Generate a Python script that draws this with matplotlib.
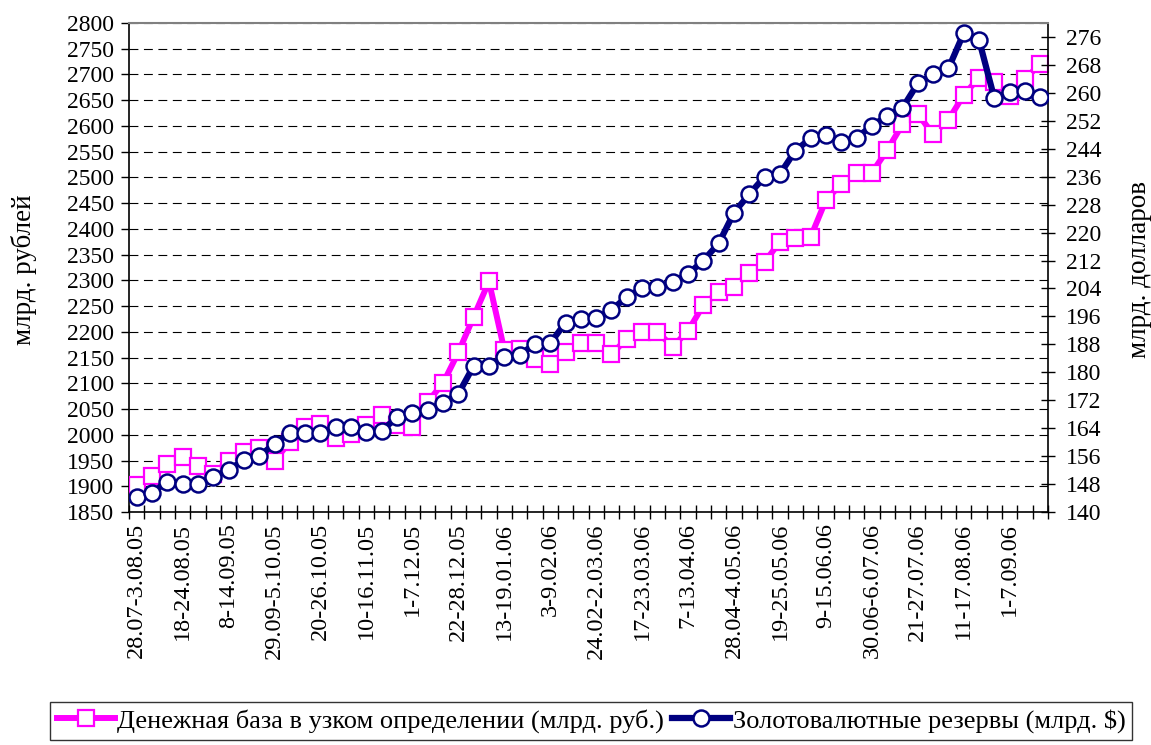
import matplotlib
matplotlib.use("Agg")
import matplotlib.pyplot as plt
import numpy as np

plt.rcParams['font.family'] = ['Liberation Serif', 'DejaVu Serif']

tick_labels = ["28.07-3.08.05", "18-24.08.05", "8-14.09.05", "29.09-5.10.05",
               "20-26.10.05", "10-16.11.05", "1-7.12.05", "22-28.12.05",
               "13-19.01.06", "3-9.02.06", "24.02-2.03.06", "17-23.03.06",
               "7-13.04.06", "28.04-4.05.06", "19-25.05.06", "9-15.06.06",
               "30.06-6.07.06", "21-27.07.06", "11-17.08.06", "1-7.09.06"]

money_base = [1902, 1920, 1943, 1956, 1939, 1924, 1949, 1967, 1974, 1950,
              1986, 2016, 2021, 1994, 2002, 2019, 2038, 2019, 2016, 2064,
              2100, 2160, 2229, 2298, 2165, 2166, 2147, 2137, 2161, 2179,
              2179, 2156, 2187, 2200, 2200, 2171, 2202, 2252, 2278, 2287,
              2315, 2336, 2375, 2382, 2384, 2456, 2487, 2509, 2509, 2553,
              2603, 2623, 2584, 2612, 2660, 2694, 2686, 2659, 2691, 2721]

reserves = [144.2, 145.5, 148.7, 148.0, 148.0, 150.1, 152.0, 154.9, 156.0, 159.5,
            162.7, 162.5, 162.5, 164.2, 164.4, 163.0, 163.3, 167.1, 168.3, 169.2,
            171.2, 173.8, 181.8, 181.8, 184.5, 185.0, 188.1, 188.3, 194.2, 195.2,
            195.5, 197.8, 201.6, 204.0, 204.3, 205.9, 208.1, 212.0, 216.9, 225.7,
            231.0, 236.0, 236.8, 243.4, 247.0, 247.9, 246.0, 247.2, 250.5, 253.4,
            255.7, 262.7, 265.3, 267.0, 277.1, 275.1, 258.4, 260.2, 260.5, 258.9]

label_money = "Денежная база в узком определении (млрд. руб.)"
label_res = "Золотовалютные резервы (млрд. $)"

n = len(money_base)
x = np.arange(n)

fig = plt.figure(figsize=(11.51, 7.45), dpi=100)
ax = fig.add_axes([129/1151, 1-512/745, (1048-129)/1151, (512-23)/745])
ax2 = ax.twinx()

MAG = '#FF00FF'
NAVY = '#000080'

l1, = ax.plot(x, money_base, color=MAG, lw=4.3, marker='s', markersize=11,
              markerfacecolor='white', markeredgecolor=MAG, markeredgewidth=1.6,
              label=label_money, zorder=3)
l2, = ax2.plot(x, reserves, color=NAVY, lw=4.5, marker='o', markersize=11.5,
               markerfacecolor='white', markeredgecolor=NAVY, markeredgewidth=1.8,
               label=label_res, zorder=3)

ax.set_xlim(-0.5, n - 0.5)
ax.set_ylim(1850, 2800)
ax.set_yticks(np.arange(1850, 2801, 50))
ax2.set_ylim(140, 280)
ax2.set_yticks(np.arange(140, 277, 8))

ax.yaxis.grid(True, linestyle=(0, (8, 5)), color='black', lw=0.8)
ax.set_axisbelow(True)

# category boundary ticks, labels every 3rd category
ax.set_xticks(np.arange(-0.5, n, 1.0))
ax.set_xticklabels([])
ax.set_xticks(np.arange(0, n, 3), tick_labels, minor=True)
ax.tick_params(axis='x', which='major', direction='inout', length=10, width=1)
ax.tick_params(axis='x', which='minor', length=0, pad=8, labelsize=17.5, labelrotation=90)
ax.tick_params(axis='y', direction='out', length=6, width=1, labelsize=17, pad=5)
ax2.tick_params(axis='y', direction='inout', length=10, width=1, labelsize=17, pad=8)

for s in ['top']:
    ax.spines[s].set_color('#808080')
    ax2.spines[s].set_color('#808080')
ax.spines['right'].set_visible(False)
ax2.spines['left'].set_visible(False)
ax2.spines['bottom'].set_visible(False)
for a in (ax, ax2):
    for s in a.spines.values():
        s.set_linewidth(1.2)
ax2.spines['top'].set_linewidth(1.5)

fig.text(24/1151, 1-270/745, "млрд. рублей", rotation=90, ha='center', va='center', fontsize=19.5)
fig.text(1139/1151, 1-270/745, "млрд. долларов", rotation=90, ha='center', va='center', fontsize=19.5)

leg = fig.legend([l1, l2], [label_money, label_res], loc='center',
                 bbox_to_anchor=(591/1151, 1-721/745), ncol=2, frameon=True,
                 fancybox=False, edgecolor='black', fontsize=19, handlelength=2.2,
                 handletextpad=0.1, columnspacing=0.3, borderpad=0.25,
                 borderaxespad=0)
leg.get_frame().set_linewidth(1.0)

fig.savefig("out.png", dpi=100)
